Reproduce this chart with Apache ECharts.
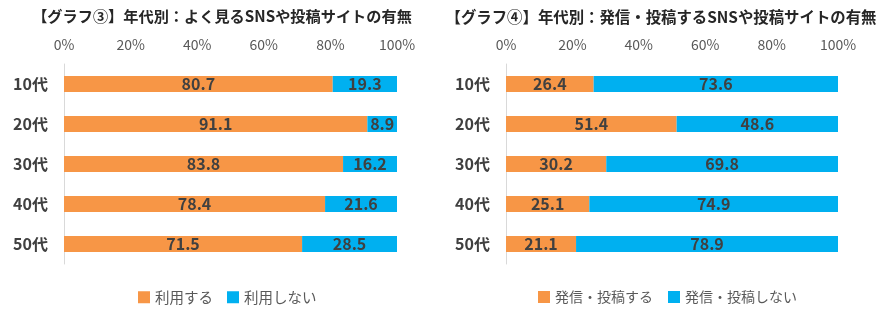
<!DOCTYPE html>
<html><head><meta charset="utf-8">
<script src="https://cdn.jsdelivr.net/npm/echarts@6/dist/echarts.min.js"></script>
<style>html,body{margin:0;padding:0;background:#fff}#c{width:876px;height:321px}</style>
</head><body><div id="c"></div>
<script>
const categories = ['10代','20代','30代','40代','50代'];
const tickValues = [0,20,40,60,80,100];
const title3 = '【グラフ③】年代別：よく見るSNSや投稿サイトの有無';
const title4 = '【グラフ④】年代別：発信・投稿するSNSや投稿サイトの有無';
const names3 = ['利用する','利用しない'];
const names4 = ['発信・投稿する','発信・投稿しない'];
const use3 = [80.7, 91.1, 83.8, 78.4, 71.5];
const notUse3 = [19.3, 8.9, 16.2, 21.6, 28.5];
const post4 = [26.4, 51.4, 30.2, 25.1, 21.1];
const notPost4 = [73.6, 48.6, 69.8, 74.9, 78.9];

const FONT = '"Noto Sans CJK JP", "Noto Sans", sans-serif';
const ORANGE = '#F79646', BLUE = '#00B0F0';
const chart = echarts.init(document.getElementById('c'));

function xAxis(idx){
  return {gridIndex: idx, type:'value', position:'top', min:0, max:100, interval:20,
    axisLine:{show:false}, axisTick:{show:false}, splitLine:{show:false},
    axisLabel:{formatter:'{value}%', color:'#595959', fontSize:14, fontFamily:FONT, margin:12}};
}
function yAxis(idx){
  return {gridIndex: idx, type:'category', data:categories, inverse:true,
    axisLine:{show:true, lineStyle:{color:'#D9D9D9', width:1}}, axisTick:{show:false},
    axisLabel:{color:'#404040', fontSize:16, fontWeight:'bold', fontFamily:FONT, margin:16}};
}
function series(name, data, color, idx){
  return {name, type:'bar', stack:'s'+idx, xAxisIndex:idx, yAxisIndex:idx, data,
    barWidth:16, itemStyle:{color},
    label:{show:true, position:'inside', color:'#404040', fontSize:16, fontWeight:'bold', fontFamily:FONT,
      formatter:p=>p.value.toFixed(1)}};
}
chart.setOption({
  animation:false,
  textStyle:{fontFamily:FONT},
  title:[
    {text:title3, left:217, top:4, textAlign:'center', textStyle:{fontSize:15.2, fontWeight:'bold', color:'#262626', fontFamily:FONT}},
    {text:title4, left:656, top:4, textAlign:'center', textStyle:{fontSize:15.4, fontWeight:'bold', color:'#262626', fontFamily:FONT}}
  ],
  legend:[
    {data:names3, left:133, top:285, itemWidth:12, itemHeight:12, itemGap:14, icon:'rect',
      textStyle:{color:'#595959', fontSize:14.5, fontFamily:FONT}},
    {data:names4, left:533, top:285, itemWidth:12, itemHeight:12, itemGap:15, icon:'rect',
      textStyle:{color:'#595959', fontSize:14, fontFamily:FONT}}
  ],
  grid:[
    {left:64, right:479, top:64, bottom:57},
    {left:506, right:38, top:64, bottom:57}
  ],
  xAxis:[xAxis(0), xAxis(1)],
  yAxis:[yAxis(0), yAxis(1)],
  series:[
    series(names3[0], use3, ORANGE, 0),
    series(names3[1], notUse3, BLUE, 0),
    series(names4[0], post4, ORANGE, 1),
    series(names4[1], notPost4, BLUE, 1)
  ]
});
</script></body></html>
